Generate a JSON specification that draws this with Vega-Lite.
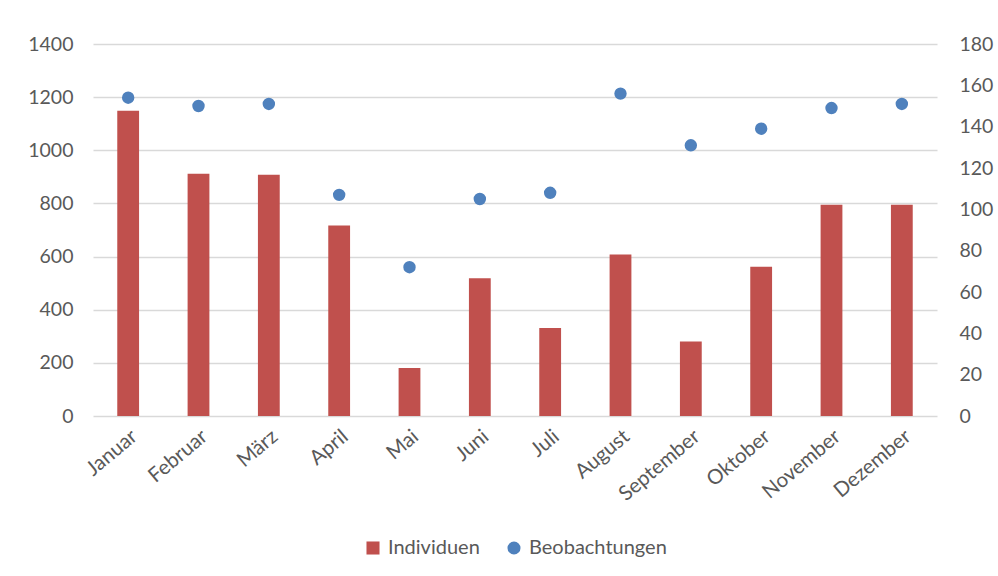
{
  "$schema": "https://vega.github.io/schema/vega-lite/v6.json",
  "width": 844,
  "height": 372,
  "autosize": "none",
  "padding": {"left": 93, "top": 44, "right": 61, "bottom": 160},
  "background": "white",
  "config": {
    "view": {"stroke": null},
    "font": "Lato",
    "axis": {
      "labelFont": "Lato",
      "labelFontSize": 19.5,
      "labelColor": "#595959",
      "ticks": false,
      "domain": false,
      "title": null
    },
    "legend": {
      "labelFont": "Lato",
      "labelFontSize": 20,
      "labelColor": "#595959"
    }
  },
  "data": {
    "values": [
      {"Monat": "Januar", "Individuen": 1149, "Beobachtungen": 154},
      {"Monat": "Februar", "Individuen": 912, "Beobachtungen": 150},
      {"Monat": "März", "Individuen": 908, "Beobachtungen": 151},
      {"Monat": "April", "Individuen": 717, "Beobachtungen": 107},
      {"Monat": "Mai", "Individuen": 181, "Beobachtungen": 72},
      {"Monat": "Juni", "Individuen": 518, "Beobachtungen": 105},
      {"Monat": "Juli", "Individuen": 331, "Beobachtungen": 108},
      {"Monat": "August", "Individuen": 608, "Beobachtungen": 156},
      {"Monat": "September", "Individuen": 280, "Beobachtungen": 131},
      {"Monat": "Oktober", "Individuen": 562, "Beobachtungen": 139},
      {"Monat": "November", "Individuen": 795, "Beobachtungen": 149},
      {"Monat": "Dezember", "Individuen": 795, "Beobachtungen": 151}
    ]
  },
  "encoding": {
    "x": {
      "field": "Monat",
      "type": "nominal",
      "sort": null,
      "scale": {"paddingInner": 0.69, "paddingOuter": 0.345},
      "axis": {"labelAngle": -40, "labelPadding": 10, "labelFontSize": 20.5, "grid": false}
    }
  },
  "layer": [
    {
      "mark": {"type": "bar"},
      "encoding": {
        "y": {
          "field": "Individuen",
          "type": "quantitative",
          "scale": {"domain": [0, 1400], "nice": false},
          "axis": {
            "orient": "left",
            "format": "d",
            "values": [0, 200, 400, 600, 800, 1000, 1200, 1400],
            "grid": true,
            "gridColor": "#D9D9D9",
            "gridWidth": 1.4,
            "labelPadding": 20
          }
        },
        "color": {
          "datum": "Individuen",
          "type": "nominal",
          "scale": {"domain": ["Individuen", "Beobachtungen"], "range": ["#C0504D", "#4F81BD"]},
          "legend": {
            "title": null,
            "orient": "none",
            "direction": "horizontal",
            "legendX": 270,
            "legendY": 494,
            "symbolSize": 170,
            "labelOffset": 5,
            "columnPadding": 24,
            "encode": {
              "symbols": {
                "update": {
                  "shape": {"signal": "datum.value === 'Individuen' ? 'square' : 'circle'"},
                  "strokeWidth": {"value": 0}
                }
              }
            }
          }
        }
      }
    },
    {
      "mark": {"type": "point", "filled": true, "size": 154, "opacity": 1},
      "encoding": {
        "y": {
          "field": "Beobachtungen",
          "type": "quantitative",
          "scale": {"domain": [0, 180], "nice": false},
          "axis": {
            "orient": "right",
            "format": "d",
            "values": [0, 20, 40, 60, 80, 100, 120, 140, 160, 180],
            "grid": false,
            "labelPadding": 22
          }
        },
        "color": {"datum": "Beobachtungen", "type": "nominal"}
      }
    }
  ],
  "resolve": {"scale": {"y": "independent"}}
}
